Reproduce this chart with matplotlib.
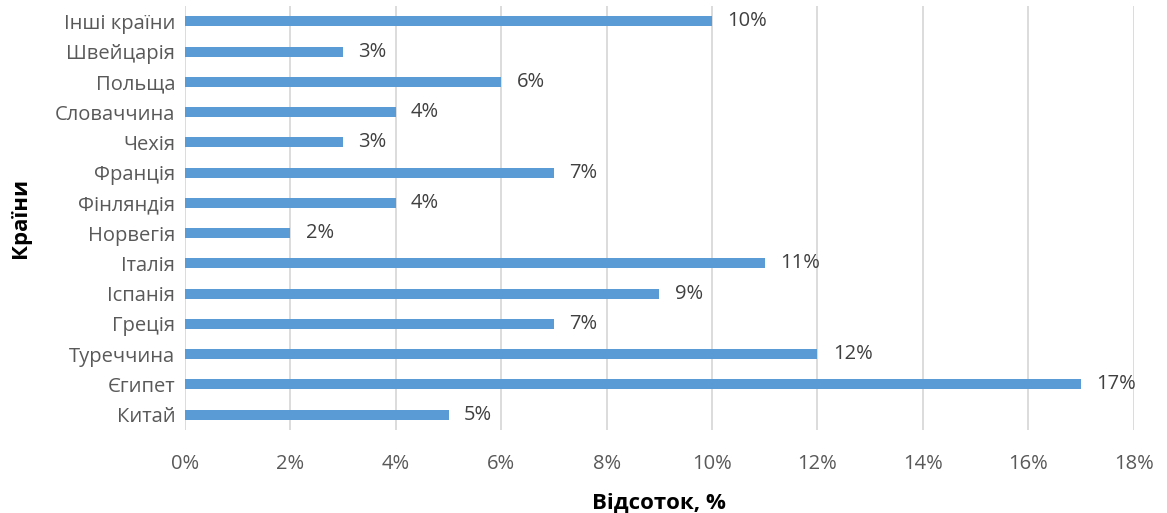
import matplotlib.pyplot as plt
from matplotlib.ticker import FuncFormatter

# -------- DATA --------
countries = ["Китай", "Єгипет", "Туреччина", "Греція", "Іспанія", "Італія", "Норвегія",
             "Фінляндія", "Франція", "Чехія", "Словаччина", "Польща", "Швейцарія", "Інші країни"]
shares = [5, 17, 12, 7, 9, 11, 2, 4, 7, 3, 4, 6, 3, 10]
x_ticks = [0, 2, 4, 6, 8, 10, 12, 14, 16, 18]

plt.rcParams['font.family'] = ['Open Sans', 'DejaVu Sans']

# -------- PLOT --------
fig = plt.figure(figsize=(11.67, 5.13), dpi=100)
ax = fig.add_axes([0.1585, 0.162, 0.813, 0.826])

bars = ax.barh(range(len(countries)), shares, height=0.33, color='#5B9BD5', zorder=3)

for bar, val in zip(bars, shares):
    ax.annotate(f"{val}%", (bar.get_width(), bar.get_y() + bar.get_height() / 2),
                xytext=(11, 0), textcoords='offset points', va='center', ha='left',
                fontsize=14.5, color='#404040')

ax.set_xlim(0, 18)
ax.set_ylim(-0.5, len(countries) - 0.5)
ax.set_xticks(x_ticks)
ax.xaxis.set_major_formatter(FuncFormatter(lambda v, p: f"{v:.0f}%"))
ax.set_yticks(range(len(countries)))
ax.set_yticklabels(countries)
ax.tick_params(axis='both', length=0, labelsize=14.5, labelcolor='#595959')
ax.tick_params(axis='x', pad=17)
ax.tick_params(axis='y', pad=7)
ax.xaxis.grid(True, color='#D9D9D9', linewidth=1.3, zorder=0)
for s in ax.spines.values():
    s.set_visible(False)

ax.set_xlabel("Відсоток, %", fontsize=16, fontweight='bold', color='black', labelpad=14)
ax.set_ylabel("Країни", fontsize=16, fontweight='bold', color='black', labelpad=17)

fig.savefig("out.png", dpi=100)
